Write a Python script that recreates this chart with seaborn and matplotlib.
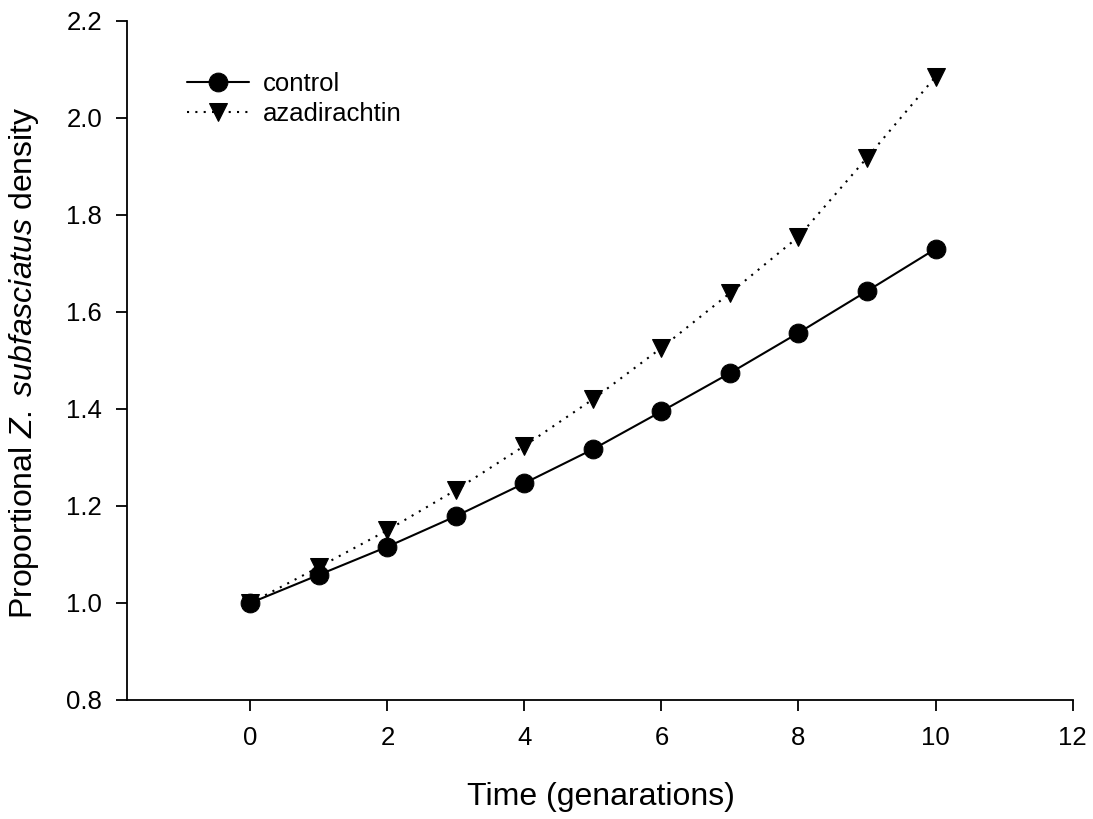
import numpy as np
import pandas as pd
import matplotlib
matplotlib.use("Agg")
import matplotlib.pyplot as plt
import seaborn as sns

# ---- data ----
time = [0, 1, 2, 3, 4, 5, 6, 7, 8, 9, 10]
control = [1.000, 1.058, 1.116, 1.179, 1.247, 1.317, 1.395, 1.474, 1.557, 1.643, 1.730]
azadirachtin = [1.000, 1.074, 1.150, 1.233, 1.324, 1.420, 1.526, 1.639, 1.755, 1.918, 2.085]
series_names = ["control", "azadirachtin"]
x_ticks = [0, 2, 4, 6, 8, 10, 12]
y_ticks = [0.8, 1.0, 1.2, 1.4, 1.6, 1.8, 2.0, 2.2]

df = pd.DataFrame({
    "time": time * 2,
    "density": control + azadirachtin,
    "treatment": [series_names[0]] * len(time) + [series_names[1]] * len(time),
})

sns.set_theme(style="ticks")
plt.rcParams["font.family"] = ["Liberation Sans", "DejaVu Sans"]
plt.rcParams["mathtext.fontset"] = "custom"
plt.rcParams["mathtext.rm"] = "Liberation Sans"
plt.rcParams["mathtext.it"] = "Liberation Sans:italic"
plt.rcParams["text.color"] = "black"
plt.rcParams["axes.labelcolor"] = "black"

fig = plt.figure(figsize=(10.93, 8.19), dpi=100)
ax = fig.add_axes([0.1162, 0.1453, 0.9646 - 0.0 - 0.1162 + 0.0167, 0.9744 - 0.1453])

sns.lineplot(
    data=df, x="time", y="density", hue="treatment", style="treatment",
    palette={"control": "black", "azadirachtin": "black"},
    markers={"control": "o", "azadirachtin": "v"},
    dashes={"control": "", "azadirachtin": (1, 3)},
    markersize=13.5, linewidth=1.5, markeredgecolor="black",
    ax=ax,
)

ax.set_xlim(-1.8, 12)
ax.set_ylim(0.8, 2.2)
ax.set_xticks(x_ticks)
ax.set_yticks(y_ticks)
ax.set_yticklabels([f"{v:.1f}" for v in y_ticks])
ax.tick_params(axis="both", which="major", direction="out", length=8, width=1.3,
               labelsize=18.5, colors="black")
ax.tick_params(axis="x", pad=11)
ax.tick_params(axis="y", pad=10)
for s in ["top", "right"]:
    ax.spines[s].set_visible(False)
for s in ["left", "bottom"]:
    ax.spines[s].set_linewidth(1.3)
    ax.spines[s].set_color("black")

ax.set_xlabel("Time (genarations)", fontsize=23, color="black")
ax.set_ylabel(r"Proportional $\mathit{Z.}\;\mathit{subfasciatus}$ density",
              fontsize=23, color="black")
ax.xaxis.set_label_coords(0.5016, -0.121)
ax.yaxis.set_label_coords(-0.091, 0.497)

sns.move_legend(ax, loc="upper left", bbox_to_anchor=(0.0635, 0.925), frameon=False,
                title=None, fontsize=18.5, handlelength=2.4, handletextpad=0.55,
                labelspacing=0.25, borderaxespad=0, borderpad=0)
for t in ax.get_legend().get_texts():
    t.set_color("black")

fig.savefig("out.png", dpi=100)
